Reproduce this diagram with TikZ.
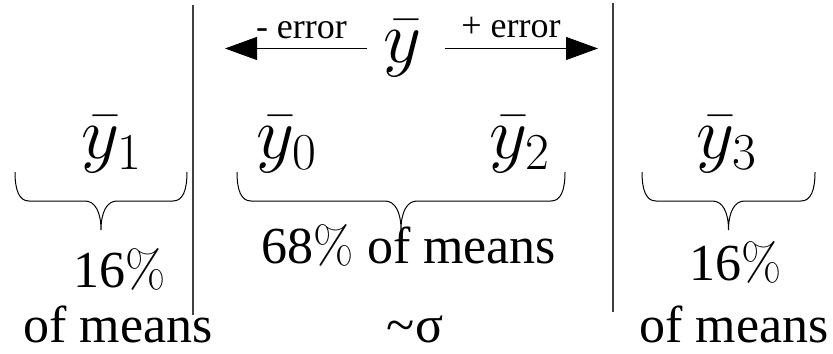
\RequirePackage{fix-cm}
\documentclass[tikz,border=0pt]{standalone}
\usepackage[no-math]{fontspec}
\setmainfont{Liberation Serif}
\usetikzlibrary{arrows.meta, calc}

\tikzset{
  mean/.style={anchor=base, inner sep=0pt, font=\fontsize{37}{40}\selectfont},
  share/.style={anchor=base, inner sep=0pt, text depth=0pt, font=\fontsize{26}{30}\selectfont},
  errlabel/.style={anchor=base, inner sep=0pt, font=\fontsize{18}{20}\selectfont},
  divider/.style={line width=0.6pt, black!75},
  errarrow/.style={-{Triangle[length=16pt, width=11.5pt]}, line width=0.5pt},
  spread/.style={line width=0.5pt, to path={
    let \p1=(\tikztostart), \p2=(\tikztotarget), \p3=($(\p1)!0.5!(\p2)$) in
    (\x1,\y1) .. controls (\x1,\y1-9pt) and (\x1+2pt,\y1-14.5pt) .. (\x1+7pt,\y1-14.5pt)
    -- (\x3-8pt,\y1-14.5pt) .. controls (\x3-3pt,\y1-14.5pt) and (\x3,\y1-20pt) .. (\x3,\y1-29pt)
    .. controls (\x3,\y1-20pt) and (\x3+3pt,\y1-14.5pt) .. (\x3+8pt,\y1-14.5pt)
    -- (\x2-7pt,\y1-14.5pt) .. controls (\x2-2pt,\y1-14.5pt) and (\x2,\y1-9pt) .. (\x2,\y2)}}
}

\begin{document}
\begin{tikzpicture}[x=0.5pt, y=-0.5pt]
  \useasboundingbox (0,0) rectangle (833,353);

  % sample means
  \node (ybar) [mean] at (402,62) {$\bar{y}$};
  \node (y1) [mean] at (112,158) {$\bar{y}_1$};
  \node (y0) [mean] at (287,158) {$\bar{y}_0$};
  \node (y2) [mean] at (520,158) {$\bar{y}_2$};
  \node (y3) [mean] at (727,158) {$\bar{y}_3$};

  % shares of the means
  \node (p1) [share] at (120,287) {16$\%$};
  \node (p2) [share] at (409,263) {68$\%$ of means};
  \node (p3) [share] at (736,280) {16$\%$};
  \node (m1) [share] at (118,342) {of means};
  \node (sig) [share] at (415,342) {\textasciitilde σ};
  \node (m3) [share] at (734,342) {of means};

  % dividers
  \coordinate (d1t) at (193,5);
  \coordinate (d1b) at (193,315);
  \coordinate (d2t) at (613,3);
  \coordinate (d2b) at (613,312);
  \draw [divider] (d1t) -- (d1b);
  \draw [divider] (d2t) -- (d2b);

  % braces
  \coordinate (b1l) at (15,172);
  \coordinate (b1r) at (187,172);
  \coordinate (b2l) at (237,172);
  \coordinate (b2r) at (565,172);
  \coordinate (b3l) at (642,172);
  \coordinate (b3r) at (815,172);
  \draw [spread] (b1l) to (b1r);
  \draw [spread] (b2l) to (b2r);
  \draw [spread] (b3l) to (b3r);

  % error arrows
  \coordinate (tipL) at (225,47);
  \coordinate (tipR) at (598,45);
  \draw [errarrow] ([xshift=-8pt]ybar.west) -- node[errlabel, pos=0.46, yshift=5pt] {- error} (tipL |- ybar.west);
  \draw [errarrow] ([xshift=12pt]ybar.east) -- node[errlabel, pos=0.43, yshift=5.5pt] {+ error} (tipR |- ybar.east);
\end{tikzpicture}
\end{document}
